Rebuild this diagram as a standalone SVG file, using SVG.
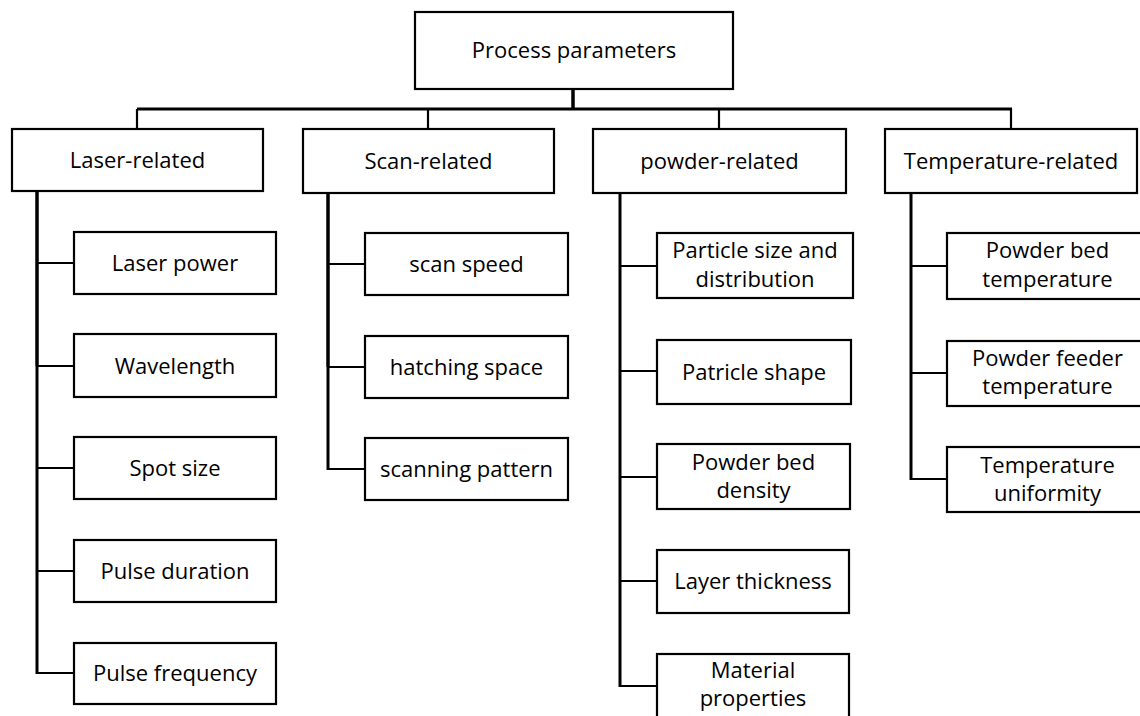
<svg xmlns="http://www.w3.org/2000/svg" width="1140" height="716" viewBox="0 0 1140 716">
<style>
.box{fill:#fff;stroke:#000;stroke-width:2.2}
.t{font-family:"Open Sans","Liberation Sans",sans-serif;font-size:22px;fill:#000;text-anchor:middle}
.c{stroke:#000;fill:none}
.thick{stroke-width:3.5}
.mid{stroke-width:3}
.thin{stroke-width:2.2}
</style>
<rect width="1140" height="716" fill="#fff"/>
<g id="connectors">
<line class="c thick" x1="573" y1="89" x2="573" y2="109"/>
<line class="c mid" x1="137" y1="109" x2="1012" y2="109"/>
<line class="c thin" x1="137" y1="109" x2="137" y2="129"/>
<line class="c thin" x1="428" y1="109" x2="428" y2="129"/>
<line class="c thin" x1="719" y1="109" x2="719" y2="129"/>
<line class="c thin" x1="1011" y1="109" x2="1011" y2="129"/>
<line class="c thick" x1="37" y1="191" x2="37" y2="366"/>
<line class="c mid" x1="37" y1="366" x2="37" y2="674"/>
<line class="c thin" x1="37" y1="263" x2="74" y2="263"/>
<line class="c thin" x1="37" y1="366" x2="74" y2="366"/>
<line class="c thin" x1="37" y1="468" x2="74" y2="468"/>
<line class="c thin" x1="37" y1="571" x2="74" y2="571"/>
<line class="c thin" x1="36" y1="673" x2="74" y2="673"/>
<line class="c thick" x1="328" y1="193" x2="328" y2="367"/>
<line class="c mid" x1="328" y1="367" x2="328" y2="470"/>
<line class="c thin" x1="328" y1="264" x2="365" y2="264"/>
<line class="c thin" x1="328" y1="367" x2="365" y2="367"/>
<line class="c thin" x1="327" y1="469" x2="365" y2="469"/>
<line class="c mid" x1="620" y1="193" x2="620" y2="687"/>
<line class="c thin" x1="620" y1="266" x2="657" y2="266"/>
<line class="c thin" x1="620" y1="371" x2="657" y2="371"/>
<line class="c thin" x1="620" y1="477" x2="657" y2="477"/>
<line class="c thin" x1="620" y1="581" x2="657" y2="581"/>
<line class="c thin" x1="619" y1="686" x2="657" y2="686"/>
<line class="c mid" x1="911" y1="193" x2="911" y2="480"/>
<line class="c thin" x1="911" y1="266" x2="947" y2="266"/>
<line class="c thin" x1="911" y1="373" x2="947" y2="373"/>
<line class="c thin" x1="910" y1="479" x2="947" y2="479"/>
</g>
<g id="root"><rect class="box" x="415" y="12" width="318" height="77"/><text class="t" x="574" y="58">Process parameters</text></g>
<g id="laser"><rect class="box" x="12" y="129" width="251" height="62"/><text class="t" x="137.5" y="168">Laser-related</text></g>
<g id="scan"><rect class="box" x="303" y="129" width="251" height="64"/><text class="t" x="428.5" y="169">Scan-related</text></g>
<g id="powder"><rect class="box" x="593" y="129" width="253" height="64"/><text class="t" x="719.5" y="169">powder-related</text></g>
<g id="temperature"><rect class="box" x="885" y="129" width="252" height="64"/><text class="t" x="1011" y="169">Temperature-related</text></g>

<g id="laser-power"><rect class="box" x="74" y="232" width="202" height="62"/><text class="t" x="175" y="271">Laser power</text></g>
<g id="wavelength"><rect class="box" x="74" y="334" width="202" height="63"/><text class="t" x="175" y="374">Wavelength</text></g>
<g id="spot-size"><rect class="box" x="74" y="437" width="202" height="62"/><text class="t" x="175" y="476">Spot size</text></g>
<g id="pulse-duration"><rect class="box" x="74" y="540" width="202" height="62"/><text class="t" x="175" y="579">Pulse duration</text></g>
<g id="pulse-frequency"><rect class="box" x="74" y="643" width="202" height="61"/><text class="t" x="175" y="681">Pulse frequency</text></g>

<g id="scan-speed"><rect class="box" x="365" y="233" width="203" height="62"/><text class="t" x="466.5" y="272">scan speed</text></g>
<g id="hatching-space"><rect class="box" x="365" y="336" width="203" height="62"/><text class="t" x="466.5" y="375">hatching space</text></g>
<g id="scanning-pattern"><rect class="box" x="365" y="438" width="203" height="62"/><text class="t" x="466.5" y="477">scanning pattern</text></g>

<g id="particle-size"><rect class="box" x="657" y="233" width="196" height="65"/><text class="t" x="755" y="258">Particle size and</text><text class="t" x="755" y="287">distribution</text></g>
<g id="particle-shape"><rect class="box" x="657" y="340" width="194" height="64"/><text class="t" x="754" y="380">Patricle shape</text></g>
<g id="powder-bed-density"><rect class="box" x="657" y="444" width="193" height="65"/><text class="t" x="753.5" y="470">Powder bed</text><text class="t" x="753.5" y="498">density</text></g>
<g id="layer-thickness"><rect class="box" x="657" y="550" width="192" height="63"/><text class="t" x="753" y="589">Layer thickness</text></g>
<g id="material-properties"><rect class="box" x="657" y="654" width="192" height="66"/><text class="t" x="753" y="678">Material</text><text class="t" x="753" y="706">properties</text></g>

<g id="powder-bed-temperature"><rect class="box" x="947" y="233" width="202" height="66"/><text class="t" x="1047.5" y="258">Powder bed</text><text class="t" x="1047.5" y="287">temperature</text></g>
<g id="powder-feeder-temperature"><rect class="box" x="947" y="341" width="202" height="65"/><text class="t" x="1047.5" y="366">Powder feeder</text><text class="t" x="1047.5" y="394">temperature</text></g>
<g id="temperature-uniformity"><rect class="box" x="947" y="447" width="202" height="65"/><text class="t" x="1047.5" y="473">Temperature</text><text class="t" x="1047.5" y="501">uniformity</text></g>
</svg>
